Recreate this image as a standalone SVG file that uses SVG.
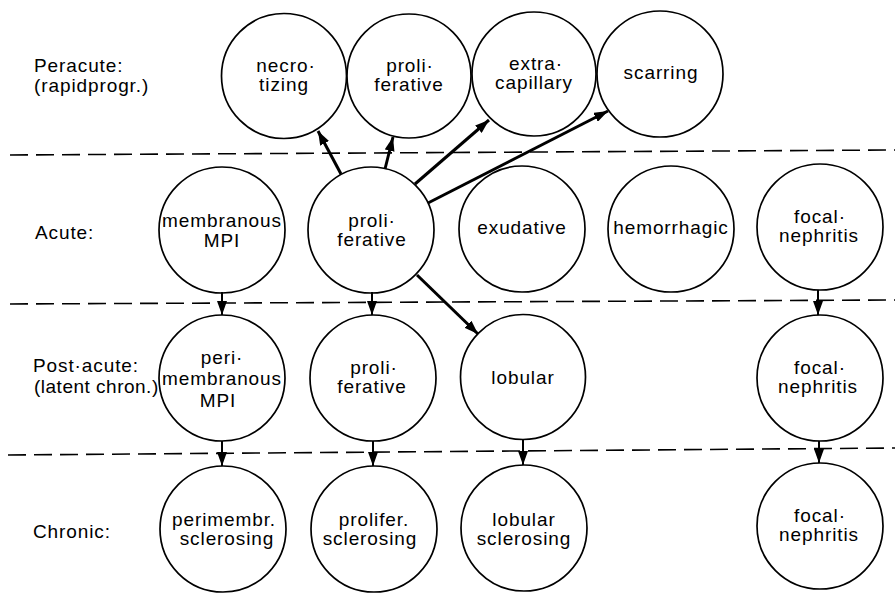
<svg xmlns="http://www.w3.org/2000/svg" width="895" height="600" viewBox="0 0 895 600">
<defs>
<marker id="ah" markerUnits="userSpaceOnUse" markerWidth="14" markerHeight="10" refX="14" refY="5" orient="auto">
<path d="M0,0 L14,5 L0,10 z" fill="#000"/>
</marker>
<style>
.c{fill:#fff;stroke:#000;stroke-width:1.7}
.t{font-family:"Liberation Sans",Arial,sans-serif;font-size:19px;letter-spacing:0.9px;text-anchor:middle;fill:#000}
.l{font-family:"Liberation Sans",Arial,sans-serif;font-size:19px;letter-spacing:0.9px;fill:#000}
.d{stroke:#000;stroke-width:1.6;stroke-dasharray:18 8;fill:none}
.a{stroke:#000;stroke-width:3;fill:none;marker-end:url(#ah)}
.v{stroke:#000;stroke-width:2;fill:none;marker-end:url(#ah)}
</style>
</defs>
<rect width="895" height="600" fill="#fff"/>
<g id="separators">
<line class="d" x1="10" y1="155" x2="895" y2="150"/>
<line class="d" x1="10" y1="304" x2="895" y2="300"/>
<line class="d" x1="8" y1="455" x2="895" y2="448"/>
</g>
<g id="row-labels">
<text class="l" x="34" y="72">Peracute:</text>
<text class="l" x="34" y="92">(rapidprogr.)</text>
<text class="l" x="35" y="239">Acute:</text>
<text class="l" x="33" y="372">Post·acute:</text>
<text class="l" x="34" y="393" style="letter-spacing:0.5px">(latent chron.)</text>
<text class="l" x="33" y="538">Chronic:</text>
</g>
<g id="necrotizing"><circle class="c" cx="284" cy="76" r="62.5"/><text class="t" x="286" y="72">necro·</text><text class="t" x="284" y="91">tizing</text></g>
<g id="proliferative-peracute"><circle class="c" cx="409" cy="76" r="62"/><text class="t" x="410" y="72">proli·</text><text class="t" x="409" y="91">ferative</text></g>
<g id="extracapillary"><circle class="c" cx="534" cy="74" r="62"/><text class="t" x="536" y="70">extra·</text><text class="t" x="534" y="89">capillary</text></g>
<g id="scarring"><circle class="c" cx="660" cy="74" r="63"/><text class="t" x="661" y="79">scarring</text></g>
<g id="membranous"><circle class="c" cx="222" cy="230" r="63"/><text class="t" x="222" y="227">membranous</text><text class="t" x="222" y="247">MPI</text></g>
<g id="proliferative-acute"><circle class="c" cx="371" cy="230" r="63"/><text class="t" x="372" y="227">proli·</text><text class="t" x="372" y="246">ferative</text></g>
<g id="exudative"><circle class="c" cx="522" cy="229" r="63"/><text class="t" x="522" y="234">exudative</text></g>
<g id="hemorrhagic"><circle class="c" cx="671" cy="229" r="63"/><text class="t" x="671" y="234">hemorrhagic</text></g>
<g id="focal-acute"><circle class="c" cx="820" cy="227" r="63"/><text class="t" x="820" y="223">focal·</text><text class="t" x="819" y="242">nephritis</text></g>
<g id="perimembranous"><circle class="c" cx="222" cy="378" r="63"/><text class="t" x="222" y="364">peri·</text><text class="t" x="222" y="385">membranous</text><text class="t" x="218" y="407">MPI</text></g>
<g id="proliferative-post"><circle class="c" cx="373" cy="378" r="63"/><text class="t" x="374" y="374">proli·</text><text class="t" x="372" y="393">ferative</text></g>
<g id="lobular"><circle class="c" cx="523" cy="377" r="62.5"/><text class="t" x="523" y="384">lobular</text></g>
<g id="focal-post"><circle class="c" cx="820" cy="378" r="63"/><text class="t" x="820" y="374">focal·</text><text class="t" x="818" y="393">nephritis</text></g>
<g id="perimembr-sclerosing"><circle class="c" cx="223" cy="529" r="63"/><text class="t" x="224" y="526">perimembr.</text><text class="t" x="227" y="545">sclerosing</text></g>
<g id="prolifer-sclerosing"><circle class="c" cx="374" cy="529" r="63"/><text class="t" x="374" y="526">prolifer.</text><text class="t" x="370" y="545">sclerosing</text></g>
<g id="lobular-sclerosing"><circle class="c" cx="524" cy="528" r="63"/><text class="t" x="524" y="526">lobular</text><text class="t" x="524" y="545">sclerosing</text></g>
<g id="focal-chronic"><circle class="c" cx="820" cy="526" r="63"/><text class="t" x="820" y="522">focal·</text><text class="t" x="819" y="541">nephritis</text></g>
<g id="connectors">
<line class="a" x1="341" y1="174" x2="318" y2="131"/>
<line class="a" x1="385" y1="169" x2="393" y2="137"/>
<line class="a" x1="415" y1="184" x2="489" y2="120"/>
<line class="a" x1="428" y1="203" x2="608" y2="111"/>
<line class="a" x1="417" y1="275" x2="478" y2="334"/>
<line class="v" x1="222" y1="292" x2="222" y2="315"/>
<line class="v" x1="372" y1="292" x2="372" y2="315"/>
<line class="v" x1="818" y1="290" x2="818" y2="315"/>
<line class="v" x1="222" y1="441" x2="222" y2="466"/>
<line class="v" x1="373" y1="441" x2="373" y2="466"/>
<line class="v" x1="523" y1="440" x2="523" y2="465"/>
<line class="v" x1="819" y1="441" x2="819" y2="463"/>
</g>
</svg>
